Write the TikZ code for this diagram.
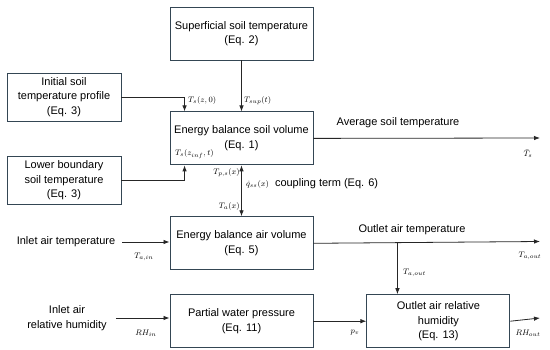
\documentclass[tikz,border=0pt]{standalone}
\usepackage{fontspec}
\setsansfont{Liberation Sans}
\usepackage{amsmath}
\usetikzlibrary{positioning,arrows.meta}
\definecolor{boxline}{RGB}{52,70,84}

\begin{document}
\begin{tikzpicture}[
  x=1pt, y=-1pt,
  font=\sffamily\fontsize{11}{14.5}\selectfont,
  box/.style={draw=boxline, line width=0.9pt, align=center, minimum width=143pt, minimum height=53pt, inner sep=2pt},
  sbox/.style={box, minimum width=114pt, minimum height=48pt},
  txt/.style={align=center, inner sep=1pt},
  lab/.style={inner sep=0pt, font=\fontsize{8.5}{9}\selectfont},
  arr/.style={-{Latex[length=6pt,width=4.5pt]}, line width=0.8pt, black!85}
]
\useasboundingbox (0,0) rectangle (550,350);
\node[box] (sup) at (241.5,33.5) {Superficial soil temperature\\(Eq. 2)};
\node[box, below=51pt of sup] (soil) {Energy balance soil volume\\(Eq. 1)};
\node[box, below=51pt of soil] (air) {Energy balance air volume\\(Eq. 5)};
\node[box, below=24pt of air] (pwp) {Partial water pressure\\(Eq. 11)};
\node[box, right=53pt of pwp] (rh) {Outlet air relative\\humidity\\(Eq. 13)};
\node[sbox] (init) at (64,97) {Initial soil\\temperature profile\\(Eq. 3)};
\node[sbox] (lowb) at (64,180.5) {Lower boundary\\soil temperature\\(Eq. 3)};
\node[txt] (tin) at (66,242) {Inlet air temperature};
\node[txt] (rhin) at (67,318) {Inlet air\\relative humidity};
\coordinate (avgend) at (540,138);
\coordinate (toutend) at (540,241.5);
\coordinate (rhend) at (540,318);
% connectors
\draw[arr] (sup) -- (soil);
\draw[arr] (init.east) -| ([xshift=15pt]soil.north west);
\draw[arr] (lowb.east) -| ([xshift=15pt]soil.south west);
\draw[arr, {Latex[length=6pt,width=4.5pt]}-{Latex[length=6pt,width=4.5pt]}] (soil) -- (air);
\draw[arr] (soil.east) -- (avgend);
\draw[arr] ([xshift=6pt]tin.east) -- (tin.east -| air.west);
\draw[arr] ([xshift=8pt]rhin.east) -- (rhin.east -| pwp.west);
\draw[arr] (air.east) -- (toutend);
\draw[arr] ([xshift=31pt]rh.north west |- air.east) -- ([xshift=31pt]rh.north west);
\draw[arr] (pwp) -- (rh);
\draw[arr] (rh.east) -- (rhend);
% labels
\node[lab, anchor=west] (lTsz) at (188,101) {$T_s(z,0)$};
\node[lab, anchor=west] (lTsup) at (244,101) {$T_{sup}(t)$};
\node[lab, anchor=west] (lTinf) at (175,154) {$T_s(z_{inf},t)$};
\node[lab, anchor=east] (lTps) at (240,173) {$T_{p,s}(x)$};
\node[txt, anchor=west] (lq) at (245,184) {{\fontsize{8.5}{9}\selectfont$\dot q_{ss}(x)$}\ \ coupling term (Eq. 6)};
\node[lab, anchor=east] (lTa) at (240,207) {$T_a(x)$};
\node[txt] (lavg) at (398,123) {Average soil temperature};
\node[lab] (lTbar) at (528,154) {$\bar T_s$};
\node[txt] (lout) at (412,230) {Outlet air temperature};
\node[lab] (lTaout) at (530,256) {$T_{a,out}$};
\node[lab, anchor=west] (lTaout2) at (403,273) {$T_{a,out}$};
\node[lab] (lTain) at (144,257) {$T_{a,in}$};
\node[lab] (lRHin) at (146,333) {$RH_{in}$};
\node[lab] (lpv) at (355,333) {$p_v$};
\node[lab] (lRHout) at (528,333) {$RH_{out}$};
\end{tikzpicture}
\end{document}
